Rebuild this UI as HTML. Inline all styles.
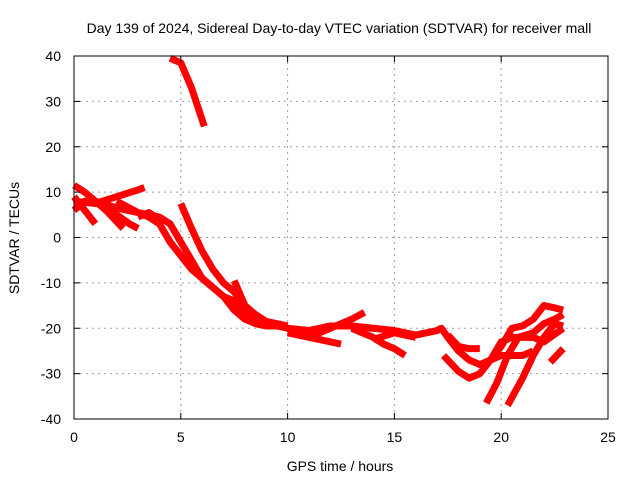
<!DOCTYPE html>
<html><head><meta charset="utf-8"><style>
body{margin:0;background:#fff}
svg{display:block;font-family:"Liberation Sans",sans-serif}
</style></head><body>
<svg id="chart" width="640" height="480">
<text x="339" y="33" font-size="14" text-anchor="middle">Day 139 of 2024, Sidereal Day-to-day VTEC variation (SDTVAR) for receiver mall</text>
<text x="340" y="471" font-size="14" text-anchor="middle">GPS time / hours</text>
<text transform="translate(19,238) rotate(-90)" font-size="14" text-anchor="middle">SDTVAR / TECUs</text>
<g id="grid"></g><g id="series"></g><g id="axes"></g>
</svg>
<script>
const xTicks=[0,5,10,15,20,25];
const yTicks=[-40,-30,-20,-10,0,10,20,30,40];
const trackA=[[4.5,39.5],[5.0,38.5],[5.5,33],[6.1,24.5]];
const trackB=[[0,11.5],[0.5,10],[1,8],[2,6.5],[3,5.5],[3.5,4.5],[4,3],[4.5,-1],[5,-4],[5.5,-7],[6,-9],[6.5,-11],[7,-13],[7.5,-14],[8,-16.5],[8.5,-18],[9,-19],[10,-20],[11,-22],[11.5,-22.5],[12.5,-23.5]];
const trackC=[[5,7.5],[5.5,2],[6,-3],[6.5,-7],[7,-10],[7.5,-12],[8,-15],[8.5,-17],[9,-18.5],[10,-19.5]];
const trackD=[[0,8],[1,7.5],[2,9],[3,10.5],[3.3,11]];
const trackE=[[0,6],[0.5,8],[1,8],[1.5,6],[2,3.5],[2.3,2]];
const trackF=[[0,9],[0.5,6],[1,3]];
const trackG=[[2,8],[3,5.5],[4,4.5],[4.5,3],[5,-1],[5.5,-5],[6,-9],[6.5,-11],[7,-13],[7.5,-16],[8,-18],[8.5,-19],[9,-19.5],[9.5,-19.5]];
const trackH=[[1.5,7],[2,5],[2.6,3],[3,2]];
const trackI=[[3,4.5],[3.5,5.5],[4,4]];
const trackJ=[[7.5,-9.5],[8,-15]];
const trackK=[[10,-20],[11,-20.5],[12,-19.5],[13,-19.5],[14,-20],[15,-20.5],[16,-21.5],[17,-20.5],[17.2,-20],[17.5,-22],[18,-25],[18.5,-27],[19,-28],[19.5,-27],[20,-26],[20.5,-26],[21,-26],[21.5,-25]];
const trackL=[[10,-21],[11,-22],[12,-20],[13,-18],[13.6,-16.5]];
const trackM=[[13,-20],[14,-22],[14.5,-23.5],[15,-24.5],[15.5,-26]];
const trackN=[[14,-22.5],[15,-21],[16,-22]];
const trackO=[[17.5,-21.5],[18,-24],[18.5,-24.5],[19,-24.5]];
const trackP=[[17.3,-26],[18,-29.5],[18.5,-31],[19,-30],[19.5,-27],[20,-24],[20.5,-20],[21,-19.5],[21.5,-18],[22,-15],[22.5,-15.5],[22.9,-16]];
const trackQ=[[19.3,-36.5],[19.8,-32],[20.3,-26],[20.8,-22],[21.5,-21],[22,-19],[22.5,-18],[22.9,-17]];
const trackR=[[20.3,-37],[21,-31],[21.5,-26],[22,-22],[22.5,-19],[22.9,-19.5]];
const trackS=[[19.5,-27],[20,-23],[20.5,-22],[21,-22],[21.5,-22],[22,-23],[22.9,-20]];
const trackT=[[22.3,-27.5],[22.9,-24.5]];
const tracks=[trackA,trackB,trackC,trackD,trackE,trackF,trackG,trackH,trackI,trackJ,trackK,trackL,trackM,trackN,trackO,trackP,trackQ,trackR,trackS,trackT];
const X0=74,X1=608,Y0=419,Y1=56;
const sx=v=>X0+(v-0)/25*(X1-X0);
const sy=v=>Y0-(v+40)/80*(Y0-Y1);
const NS="http://www.w3.org/2000/svg";
function mk(tag,attrs,parent){const e=document.createElementNS(NS,tag);for(const k in attrs)e.setAttribute(k,attrs[k]);parent.appendChild(e);return e;}
const grid=document.getElementById('grid'),axes=document.getElementById('axes'),ser=document.getElementById('series');
xTicks.forEach(t=>{
 if(t>0&&t<25){const g=mk('line',{x1:sx(t),x2:sx(t),y1:Y1,y2:Y0,stroke:'#a0a0a0','stroke-dasharray':'2,4'},grid);
 
 }
 const tk=mk('path',{d:`M${sx(t)},${Y0}v-6M${sx(t)},${Y1}v6`,stroke:'#000'},axes);
 
 
 const l=mk('text',{x:sx(t),y:Y0+23,'font-size':14,'text-anchor':'middle'},axes);l.textContent=t;
 
 
});
yTicks.forEach(t=>{
 if(t>-40&&t<40){const g=mk('line',{x1:X0,x2:X1,y1:sy(t),y2:sy(t),stroke:'#a0a0a0','stroke-dasharray':'2,4'},grid);
 
 }
 const tk=mk('path',{d:`M${X0},${sy(t)}h6M${X1},${sy(t)}h-6`,stroke:'#000'},axes);
 
 
 const l=mk('text',{x:X0-13,y:sy(t)+5,'font-size':14,'text-anchor':'end'},axes);l.textContent=t;
 
 
});
const fr=mk('rect',{x:X0,y:Y1,width:X1-X0,height:Y0-Y1,fill:'none',stroke:'#000'},axes);


tracks.forEach(tr=>{
 const p=mk('polyline',{points:tr.map(d=>sx(d[0])+','+sy(d[1])).join(' '),fill:'none',stroke:'#f00','stroke-width':7,'stroke-linejoin':'round'},ser);
 
 
});
</script>
</body></html>
